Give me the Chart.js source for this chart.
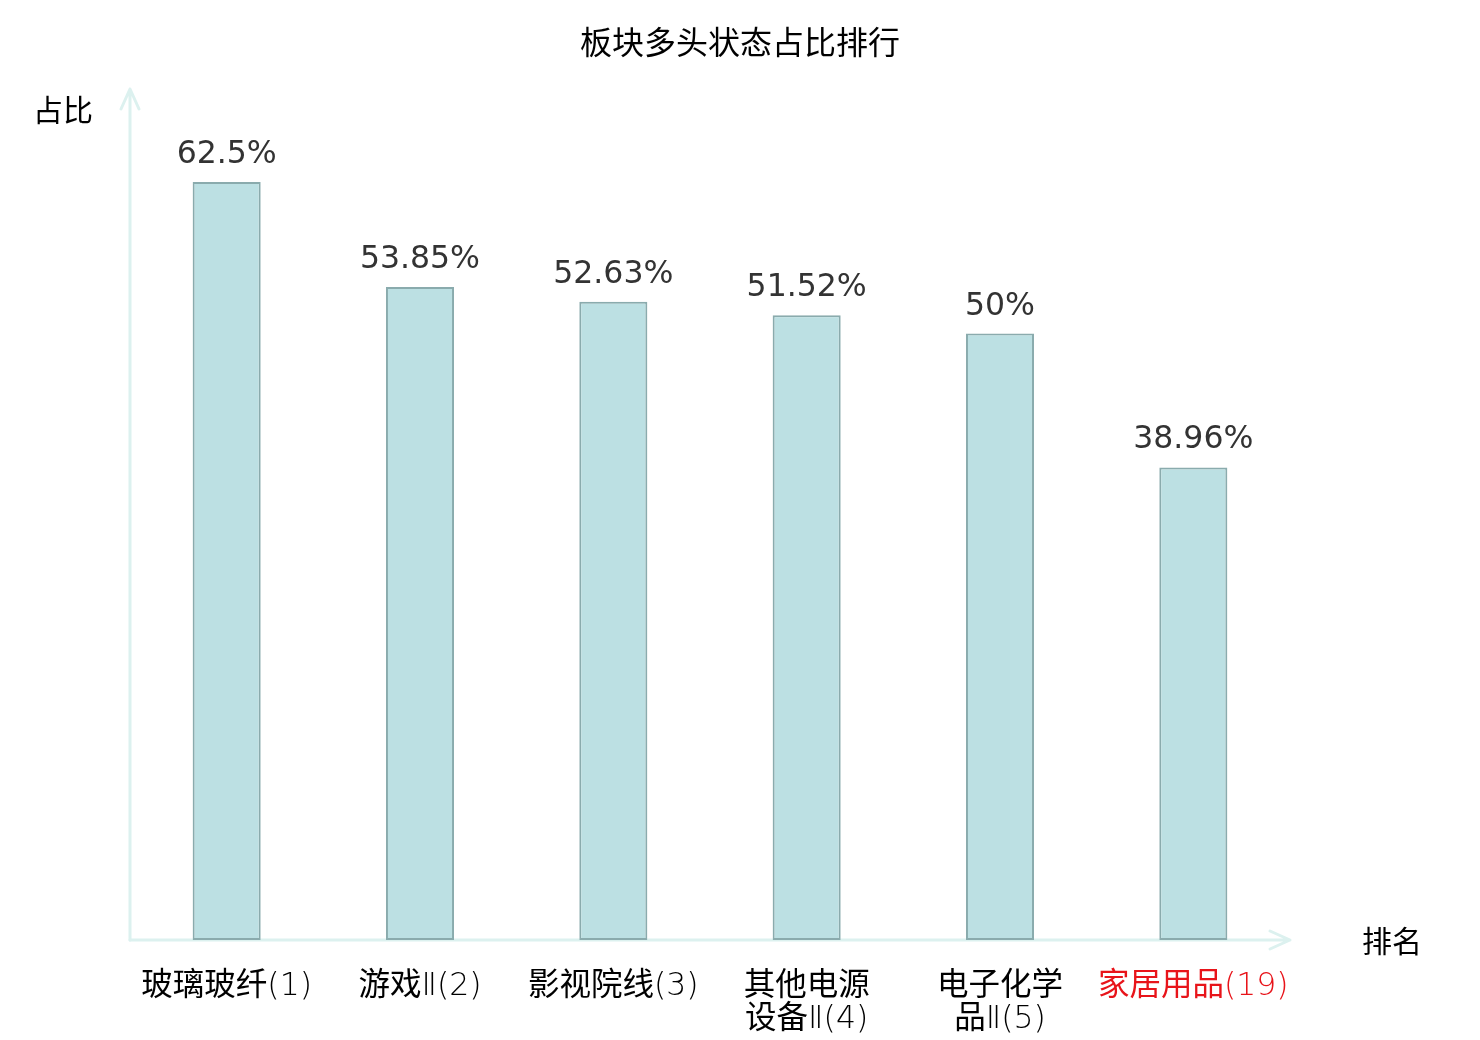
<!DOCTYPE html>
<html>
<head>
<meta charset="utf-8">
<script src="https://cdn.jsdelivr.net/npm/chart.js@4/dist/chart.umd.min.js"></script>
<style>
  html, body { margin: 0; padding: 0; background: #fff; }
  #wrap { width: 1480px; height: 1040px; }
</style>
</head>
<body>
<div id="wrap"><canvas id="chart" width="1480" height="1040"></canvas></div>
<script>
// data
const categories = [
	['玻璃玻纤(1)'],
	['游戏Ⅱ(2)'],
	['影视院线(3)'],
	['其他电源', '设备Ⅱ(4)'],
	['电子化学', '品Ⅱ(5)'],
	['家居用品(19)']
];
const values = [62.5, 53.85, 52.63, 51.52, 50, 38.96];
const valueLabels = ['62.5%', '53.85%', '52.63%', '51.52%', '50%', '38.96%'];
const highlightIndex = 5; // the sector shown in red
const chartTitle = '板块多头状态占比排行';

const cjkFont = '"Noto Sans CJK SC", "Noto Sans", sans-serif';
// thin latin glyphs for digits/brackets in the category names, CJK falls back to Noto
const tickFont = '"DejaVu Sans Light", "Noto Sans CJK SC", sans-serif';
const axisColor = '#dcf1ef';

// title, axis lines with arrow heads, axis names
const axesPlugin = {
	id: 'axesArrows',
	beforeDatasetsDraw(chart) {
		const ctx = chart.ctx;
		const a = chart.chartArea;
		ctx.save();
		// title centred on the whole canvas
		ctx.fillStyle = '#000';
		ctx.font = '32px ' + cjkFont;
		ctx.textAlign = 'center';
		ctx.textBaseline = 'middle';
		ctx.fillText(chartTitle, chart.width / 2, 42);

		ctx.strokeStyle = axisColor;
		ctx.lineWidth = 3;
		ctx.lineCap = 'round';
		ctx.lineJoin = 'round';
		// y axis
		ctx.beginPath();
		ctx.moveTo(a.left, a.bottom);
		ctx.lineTo(a.left, a.top - 2);
		ctx.moveTo(a.left - 9, a.top + 18);
		ctx.lineTo(a.left, a.top - 2);
		ctx.lineTo(a.left + 9, a.top + 18);
		ctx.stroke();
		// x axis
		ctx.beginPath();
		ctx.moveTo(a.left, a.bottom);
		ctx.lineTo(a.right, a.bottom);
		ctx.moveTo(a.right - 20, a.bottom - 9);
		ctx.lineTo(a.right, a.bottom);
		ctx.lineTo(a.right - 20, a.bottom + 9);
		ctx.stroke();
		// axis names
		ctx.font = '30px ' + cjkFont;
		ctx.fillText('占比', 63, a.top + 19);
		ctx.fillText('排名', a.right + 102, a.bottom + 1);
		ctx.restore();
	}
};

// value labels above each bar
const valueLabelPlugin = {
	id: 'valueLabels',
	afterDatasetsDraw(chart) {
		const ctx = chart.ctx;
		const meta = chart.getDatasetMeta(0);
		ctx.save();
		ctx.fillStyle = '#333';
		ctx.font = '31.5px "DejaVu Sans", sans-serif';
		ctx.textAlign = 'center';
		ctx.textBaseline = 'alphabetic';
		meta.data.forEach((bar, i) => {
			ctx.fillText(valueLabels[i], bar.x, bar.y - 19);
		});
		ctx.restore();
	}
};

new Chart(document.getElementById('chart'), {
	type: 'bar',
	data: {
		labels: categories,
		datasets: [{
			data: values,
			backgroundColor: '#bce0e3',
			borderColor: '#8aabad',
			borderWidth: 2,
			borderSkipped: false,
			barPercentage: 1,
			categoryPercentage: 0.352
		}]
	},
	options: {
		responsive: false,
		animation: false,
		devicePixelRatio: 1,
		layout: { padding: { left: 130, right: 190, top: 91, bottom: 0 } },
		plugins: {
			legend: { display: false },
			tooltip: { enabled: false },
			title: { display: false }
		},
		scales: {
			x: {
				grid: { display: false, drawTicks: false },
				border: { display: false },
				afterFit(scale) { scale.height = 100; },
				ticks: {
					padding: 30,
					autoSkip: false,
					maxRotation: 0,
					font: { family: tickFont, size: 31.5, lineHeight: 1.05 },
					color: (c) => c.index === highlightIndex ? '#e8141a' : '#000'
				}
			},
			y: {
				display: false,
				min: 0,
				max: 70
			}
		}
	},
	plugins: [axesPlugin, valueLabelPlugin]
});
</script>
</body>
</html>
